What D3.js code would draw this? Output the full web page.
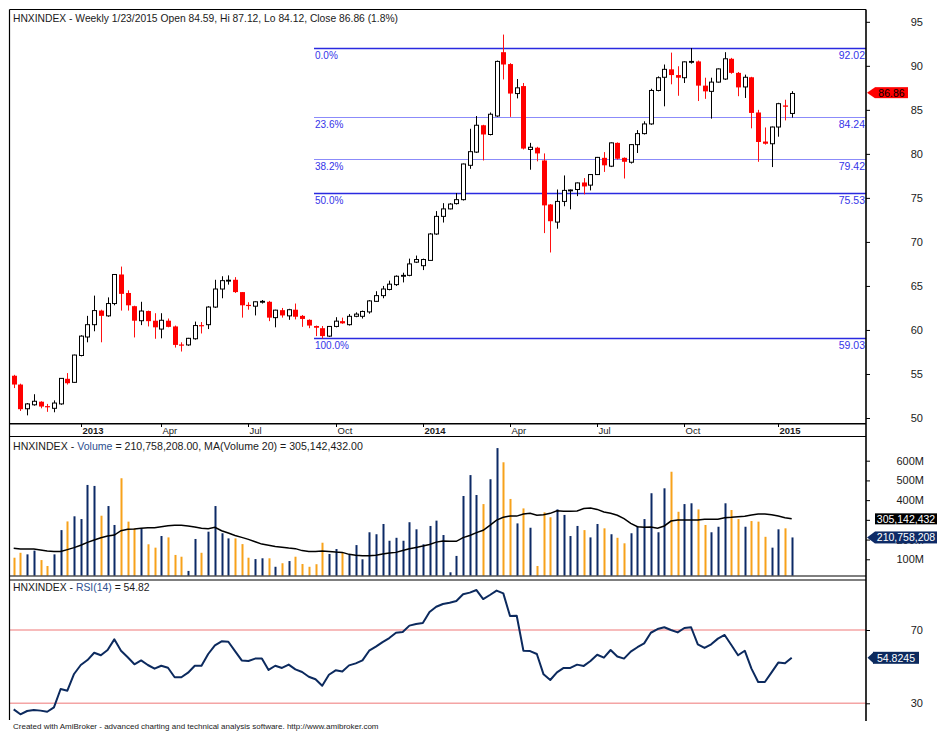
<!DOCTYPE html>
<html><head><meta charset="utf-8">
<script src="https://cdn.jsdelivr.net/npm/d3@7"></script>
<style>
body{margin:0;background:#fff}
svg{display:block}
text{font-family:"Liberation Sans",Arial,sans-serif}
</style>
</head><body>
<svg id="chart" width="951" height="731"></svg>
<script>
// ---------------- DATA ----------------
const openP = [
54.8,53.8,51.05,51.5,51.85,51.35,51.1,51.6,54.45,54.05,
57.1,59.2,60.6,62.2,61.6,63.0,66.3,64.2,62.7,61.05,
62.15,61.05,60.1,61.05,60.4,58.35,58.3,59.0,60.55,60.6,
62.6,64.65,65.55,65.7,64.3,62.85,62.7,63.15,63.2,61.4,
62.25,61.6,62.3,61.6,61.15,60.45,60.2,59.3,60.4,61.0,
60.6,61.55,61.55,62.05,63.25,63.9,64.6,65.15,66.1,66.2,
67.7,67.3,67.9,70.9,72.9,73.75,74.35,74.8,78.7,80.2,
83.25,82.2,84.3,91.55,90.2,86.85,87.7,80.5,80.7,79.25,
74.25,72.25,74.6,75.8,75.95,76.75,76.45,77.65,79.55,78.6,
81.25,79.55,79.05,81.05,82.3,83.4,87.2,88.7,89.6,88.95,
88.65,90.4,90.5,87.75,87.1,88.15,88.5,90.8,89.2,87.6,
88.7,84.7,81.4,81.15,83.05,85.5,84.59];
const highP = [
54.9,53.9,51.7,52.7,51.9,51.6,52.0,54.5,55.1,57.2,
59.4,61.6,63.9,62.3,63.7,66.3,67.2,64.5,62.75,63.2,
62.2,61.9,61.9,61.3,60.5,58.6,59.1,60.95,60.9,62.7,
65.7,66.1,66.2,66.0,64.3,63.15,63.25,63.4,63.3,62.3,
62.5,62.4,63.0,61.7,61.2,60.5,60.45,60.45,61.45,61.4,
61.8,62.0,62.2,63.4,64.4,65.0,65.6,66.2,66.5,68.1,
68.45,68.1,71.0,73.5,74.4,74.4,75.55,78.9,82.85,84.3,
83.3,84.7,90.6,93.55,90.3,88.5,88.05,81.25,80.8,80.05,
74.3,75.95,77.55,75.95,76.75,77.25,77.7,79.65,80.2,81.3,
81.3,79.6,81.1,82.7,83.7,87.4,88.8,90.15,91.5,89.95,
90.5,92.02,90.6,88.65,88.65,89.7,91.55,90.9,89.3,89.0,
88.75,85.0,83.0,83.1,85.8,86.15,87.12];
const lowP = [
53.4,50.8,50.3,51.4,51.1,50.7,50.65,51.5,53.8,54.0,
57.0,58.6,59.85,58.6,61.5,62.8,62.2,62.2,59.15,60.55,
60.4,59.0,59.05,60.3,58.0,57.55,58.2,58.9,59.6,60.1,
62.5,63.6,65.15,64.2,61.4,62.3,61.65,63.0,61.0,60.3,
61.4,61.15,61.2,60.35,60.2,59.3,59.03,59.2,60.3,60.7,
60.5,61.45,61.3,61.85,63.2,63.6,64.5,65.0,65.4,66.1,
67.6,66.8,67.9,70.8,72.2,73.7,74.25,74.7,78.3,80.1,
79.25,82.1,84.2,88.45,84.2,86.3,80.5,78.2,79.15,71.0,
68.8,71.5,74.05,73.7,75.2,75.4,75.85,77.6,77.95,78.5,
79.35,77.2,78.9,80.1,82.2,83.3,87.1,85.4,87.9,86.6,
88.05,90.25,86.0,86.25,84.0,88.1,88.4,89.1,86.55,86.35,
82.9,79.1,81.05,78.5,81.95,83.8,84.12];
const closeP = [
53.8,51.0,51.6,51.9,51.3,51.25,51.7,54.5,53.95,57.15,
59.3,60.6,62.2,61.6,63.0,66.3,64.1,62.8,61.05,62.15,
61.0,60.3,61.1,60.35,58.3,58.25,59.05,60.5,60.45,62.6,
64.65,65.6,65.65,64.3,62.8,62.75,63.2,63.25,61.4,62.25,
61.65,62.3,61.5,61.25,60.5,60.25,59.3,60.4,61.0,60.75,
61.55,61.8,62.1,63.3,63.9,64.65,65.2,66.1,66.2,67.5,
68.0,68.0,70.9,72.9,73.75,74.3,74.8,78.85,80.25,83.25,
82.2,84.5,90.5,90.15,86.85,87.5,80.6,80.75,80.05,74.15,
72.35,74.6,75.85,75.9,76.7,76.3,77.65,79.6,78.7,81.25,
79.45,79.1,81.05,82.3,83.4,87.2,88.65,89.6,88.95,88.65,
90.45,90.5,87.75,87.1,88.15,89.65,90.8,89.2,87.55,88.7,
84.65,81.35,81.15,83.05,85.7,85.35,86.86];
// weekly volume, millions of shares
const volume = [
108,133,125,144,96,66,125,248,292,318,
304,477,472,321,370,274,511,291,257,257,
176,159,218,211,122,113,41,203,133,240,
370,232,206,206,177,108,101,105,105,62,
80,91,113,76,62,75,184,127,152,133,
122,172,100,237,227,279,194,209,194,288,
252,176,269,296,223,34,117,421,527,426,
380,506,664,592,406,282,358,260,66,338,
313,353,325,218,269,248,211,279,257,227,
209,181,232,269,304,435,237,460,544,341,
380,384,353,274,237,265,384,350,304,265,
294,291,214,159,252,257,210.758208];
// MA(Volume 20), millions
const volumeMA = [
156,152,152,152,147,142,139,139,149,159,
171,186,198,209,218,223,245,252,253,257,
260,260,265,270,272,272,269,264,258,255,
262,245,233,221,211,201,189,177,171,165,
161,157,154,144,140,139,142,140,137,135,
125,120,118,118,120,127,132,135,145,153,
160,167,175,187,193,191,191,210,221,235,
247,272,299,313,319,319,330,333,323,326,
333,346,343,343,345,357,360,353,340,333,
323,306,282,265,262,264,258,269,294,299,
299,299,299,303,303,303,311,313,316,318,
325,330,330,326,319,311,305.142432];
const rsi = [
26.7,24.0,25.8,26.4,26.0,25.4,27.8,37.8,36.9,46.0,
50.9,53.6,57.6,56.2,59.1,64.9,58.7,55.1,51.3,53.4,
50.9,48.9,50.5,49.4,44.2,44.2,46.7,50.5,50.5,56.9,
61.6,63.8,63.6,58.5,53.4,53.1,54.4,54.4,48.2,50.5,
49.3,51.1,48.5,47.1,44.5,43.1,39.6,45.6,48.0,47.3,
50.7,51.8,53.4,58.7,60.9,63.4,65.6,68.5,68.9,72.4,
73.3,73.8,79.8,82.7,84.2,84.9,85.8,89.5,90.4,91.8,
86.9,89.1,91.5,90.0,77.6,77.8,58.7,58.5,56.9,45.8,
42.7,46.9,49.3,49.3,51.1,50.4,53.1,56.5,54.9,59.1,
55.5,54.4,58.2,60.6,62.7,68.5,70.5,71.5,70.0,68.7,
71.1,71.5,62.2,60.2,62.2,65.3,67.3,61.8,56.2,58.7,
48.9,41.6,41.6,46.9,52.2,51.8,54.8245];
const dateTickIndex = [10,22,35,48,61,74,87,100,114];
const dateTickLabel = ["2013","Apr","Jul","Oct","2014","Apr","Jul","Oct","2015"];
const priceTicks = [50,55,60,65,70,75,80,85,90,95];
const volumeTicks = [100,200,300,400,500,600];
const volumeTickLabels = ["100M","200M","300M","400M","500M","600M"];
const rsiTicks = [30,70];
const fibPct = ["0.0%","23.6%","38.2%","50.0%","100.0%"];
const fibValue = [92.02,84.24,79.42,75.53,59.03];
const fibLabel = ["92.02","84.24","79.42","75.53","59.03"];
const fibStrong = [true,false,false,true,true];

// ---------------- LAYOUT ----------------
const svg = d3.select("#chart");
const n = closeP.length;
const L = 9.5, R = 866;
const x = d3.scaleLinear().domain([0, n-1]).range([13.7, 791.7]);
const px = i => Math.round(x(i)) + 0.5;
const yP = d3.scaleLinear().domain([50, 95]).range([418.0, 21.8]);
const yV = d3.scaleLinear().domain([0, 600]).range([579, 460.7]);
const yR = d3.scaleLinear().domain([30, 70]).range([703.3, 630]);
const txt = "#1a1a1a";

const defs = svg.append("defs");
defs.append("clipPath").attr("id","cp").append("rect").attr("x",L).attr("y",10).attr("width",R-L).attr("height",413);
defs.append("clipPath").attr("id","cv").append("rect").attr("x",L).attr("y",437).attr("width",R-L).attr("height",138.5);
defs.append("clipPath").attr("id","cr").append("rect").attr("x",L).attr("y",581).attr("width",R-L).attr("height",139);

// ---------------- PRICE PANEL ----------------
const gp = svg.append("g").attr("clip-path","url(#cp)");
fibValue.forEach((v,k)=>{
  const yy = Math.round(yP(v)) + 0.5;
  gp.append("line").attr("x1",314).attr("x2",R).attr("y1",yy).attr("y2",yy)
    .attr("stroke", fibStrong[k] ? "#2a2ae0" : "#6464f8").attr("stroke-width", fibStrong[k] ? 1.6 : 1)
    .attr("stroke-opacity", fibStrong[k] ? 1 : 0.75);
  svg.append("text").attr("x",315).attr("y",yy+10.5).attr("font-size",10).attr("fill","#3434e8").text(fibPct[k]);
  svg.append("text").attr("x",865).attr("y",yy+10.5).attr("font-size",10.5).attr("text-anchor","end").attr("fill","#3434e8").text(fibLabel[k]);
});
const candles = d3.range(n).map(i => ({i, o:openP[i], h:highP[i], l:lowP[i], c:closeP[i], up: closeP[i] >= openP[i]}));
gp.selectAll("line.wick").data(candles).join("line").attr("class","wick")
  .attr("x1", d=>px(d.i)).attr("x2", d=>px(d.i))
  .attr("y1", d=>yP(d.h)).attr("y2", d=>yP(d.l))
  .attr("stroke", d=> d.up ? "#000" : "#ff1010").attr("stroke-width",1);
gp.selectAll("rect.body").data(candles).join("rect").attr("class","body")
  .attr("x", d=> d.up ? px(d.i)-2 : px(d.i)-2.5)
  .attr("width", d=> d.up ? 4 : 5)
  .attr("y", d=> d.up ? yP(d.c) : yP(d.o))
  .attr("height", d=> Math.max(d.up ? 0.6 : 1.2, Math.abs(yP(d.o)-yP(d.c))))
  .attr("fill", d=> d.up ? "#fff" : "#ff0000")
  .attr("stroke", d=> d.up ? "#000" : "none").attr("stroke-width",1);

svg.append("text").attr("x",13).attr("y",22).attr("font-size",10.3).attr("fill",txt)
  .text("HNXINDEX - Weekly 1/23/2015 Open 84.59, Hi 87.12, Lo 84.12, Close 86.86 (1.8%)");

// price axis
const ap = svg.append("g").attr("transform",`translate(${R},0)`)
  .call(d3.axisRight(yP).tickValues(priceTicks).tickSize(4).tickFormat(d3.format("d")));
ap.select(".domain").remove();
ap.selectAll("text").attr("x",57).attr("text-anchor","end").attr("font-size",11).attr("fill",txt).attr("font-family","Liberation Sans, Arial");
ap.selectAll("line").attr("stroke","#000");

// x axis dates
svg.append("line").attr("x1",L).attr("x2",R).attr("y1",423.7).attr("y2",423.7).attr("stroke","#000").attr("stroke-width",1.6);
dateTickIndex.forEach((ix,k)=>{
  const xx = px(ix);
  svg.append("line").attr("x1",xx).attr("x2",xx).attr("y1",424).attr("y2",427).attr("stroke","#000");
  svg.append("text").attr("x",xx+1).attr("y",433.5).attr("font-size",9.5)
    .attr("font-weight", /^\d/.test(dateTickLabel[k]) ? "bold" : "normal").attr("fill",txt).text(dateTickLabel[k]);
});

// close price marker
{
  const yy = yP(closeP[n-1]) - 0.8;
  svg.append("path").attr("d",`M${R+1},${yy} L${R+9},${yy-5.5} L${R+9},${yy+5.5} Z`).attr("fill","#ff0000");
  svg.append("rect").attr("x",R+9).attr("y",yy-5.5).attr("width",33).attr("height",11).attr("fill","#ff0000");
  svg.append("text").attr("x",R+25.5).attr("y",yy+4).attr("text-anchor","middle").attr("font-size",10.5).attr("fill","#000").text(closeP[n-1].toFixed(2));
}

// ---------------- VOLUME PANEL ----------------
svg.append("line").attr("x1",L).attr("x2",R).attr("y1",436.5).attr("y2",436.5).attr("stroke","#000");
const gv = svg.append("g").attr("clip-path","url(#cv)");
gv.selectAll("rect.vol").data(candles).join("rect").attr("class","vol")
  .attr("x", d=>Math.round(x(d.i))-0.5).attr("width",2)
  .attr("y", d=>yV(volume[d.i])).attr("height", d=>Math.max(0, 576 - yV(volume[d.i])))
  .attr("fill", d=> d.up ? "#0d2a66" : "#f7a21b");
gv.append("path").datum(volumeMA)
  .attr("d", d3.line().x((d,i)=>x(i)).y(d=>yV(d)))
  .attr("fill","none").attr("stroke","#000").attr("stroke-width",1.5);
svg.append("line").attr("x1",L).attr("x2",R).attr("y1",576).attr("y2",576).attr("stroke","#000").attr("stroke-width",1.2);
const vt = svg.append("text").attr("x",13).attr("y",449.5).attr("font-size",10.6).attr("fill",txt);
vt.append("tspan").text("HNXINDEX - ");
vt.append("tspan").attr("fill","#2d4f8f").text("Volume");
vt.append("tspan").text(" = 210,758,208.00, MA(Volume 20) = 305,142,432.00");
const av = svg.append("g").attr("transform",`translate(${R},0)`)
  .call(d3.axisRight(yV).tickValues(volumeTicks).tickSize(4).tickFormat((d,k)=>volumeTickLabels[k]));
av.select(".domain").remove();
av.selectAll("text").attr("x",58).attr("text-anchor","end").attr("font-size",11).attr("fill",txt).attr("font-family","Liberation Sans, Arial");
av.selectAll("line").attr("stroke","#000");
{
  const ym = yV(volumeMA[n-1]);
  svg.append("rect").attr("x",R+9).attr("y",ym-5.5).attr("width",62).attr("height",11).attr("fill","#000");
  svg.append("text").attr("x",R+40).attr("y",ym+4).attr("text-anchor","middle").attr("font-size",10.5).attr("fill","#fff").text("305,142,432");
  const yv = yV(volume[n-1]);
  svg.append("path").attr("d",`M${R+1},${yv} L${R+9},${yv-6} L${R+9},${yv+6} Z`).attr("fill","#0d2a66");
  svg.append("rect").attr("x",R+9).attr("y",yv-6).attr("width",62).attr("height",12).attr("fill","#0d2a66");
  svg.append("text").attr("x",R+40).attr("y",yv+4).attr("text-anchor","middle").attr("font-size",10.5).attr("fill","#fff").text("210,758,208");
}

// ---------------- RSI PANEL ----------------
svg.append("line").attr("x1",L).attr("x2",R).attr("y1",580).attr("y2",580).attr("stroke","#000").attr("stroke-width",1.2);
const gr = svg.append("g").attr("clip-path","url(#cr)");
rsiTicks.forEach(v=>{
  gr.append("line").attr("x1",L).attr("x2",R).attr("y1",yR(v)).attr("y2",yR(v)).attr("stroke","#f4a4a4").attr("stroke-width",1.5);
});
gr.append("path").datum(rsi)
  .attr("d", d3.line().x((d,i)=>x(i)).y(d=>yR(d)))
  .attr("fill","none").attr("stroke","#0c2a5e").attr("stroke-width",2).attr("stroke-linejoin","round");
const rt = svg.append("text").attr("x",13).attr("y",591).attr("font-size",10.4).attr("fill",txt);
rt.append("tspan").text("HNXINDEX - ");
rt.append("tspan").attr("fill","#2d4f8f").text("RSI(14)");
rt.append("tspan").text(" = 54.82");
const ar = svg.append("g").attr("transform",`translate(${R},0)`)
  .call(d3.axisRight(yR).tickValues(rsiTicks).tickSize(4).tickFormat(d3.format("d")));
ar.select(".domain").remove();
ar.selectAll("text").attr("x",57).attr("text-anchor","end").attr("font-size",11).attr("fill",txt).attr("font-family","Liberation Sans, Arial");
ar.selectAll("line").attr("stroke","#000");
{
  const yr = yR(rsi[n-1]);
  svg.append("path").attr("d",`M${R+1.5},${yr} L${R+8},${yr-6} L${R+8},${yr+6} Z`).attr("fill","#0c2a5e");
  svg.append("rect").attr("x",R+7).attr("y",yr-6).attr("width",46).attr("height",12).attr("fill","#0c2a5e");
  svg.append("text").attr("x",R+30).attr("y",yr+4).attr("text-anchor","middle").attr("font-size",10.5).attr("fill","#fff").text("54.8245");
}

// frame
svg.append("line").attr("x1",L).attr("x2",R).attr("y1",9.5).attr("y2",9.5).attr("stroke","#000");
svg.append("line").attr("x1",L).attr("x2",L).attr("y1",9.5).attr("y2",720).attr("stroke","#000").attr("stroke-width",1.2);
svg.append("line").attr("x1",R).attr("x2",R).attr("y1",9.5).attr("y2",721).attr("stroke","#000").attr("stroke-width",1.6);

svg.append("text").attr("x",13).attr("y",729).attr("font-size",8).attr("fill",txt)
  .text("Created with AmiBroker - advanced charting and technical analysis software. http://www.amibroker.com");
</script>
</body></html>
